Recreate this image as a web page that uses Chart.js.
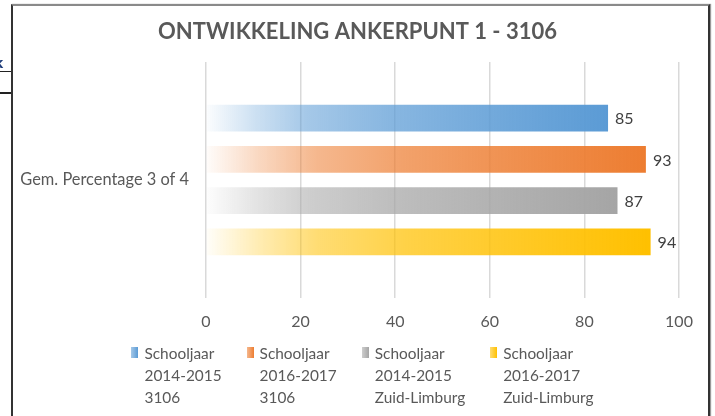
<!DOCTYPE html>
<html>
<head>
<meta charset="utf-8">
<script src="https://cdn.jsdelivr.net/npm/chart.js@4.4.1/dist/chart.umd.min.js"></script>
<style>
  html, body { margin: 0; padding: 0; background: #fff; }
  body { width: 715px; height: 416px; position: relative; overflow: hidden; font-family: Lato, "Open Sans", sans-serif; }
  #wrap { position: absolute; left: 0; top: 0; width: 715px; height: 416px; }
  #frame { position: absolute; left: 11px; top: 4px; width: 695px; height: 430px;
           border-top: 2px solid #8a8a8a; border-left: 2px solid #333; border-right: 2px solid #333;
           box-shadow: 1px 0 1px #999; pointer-events: none; }
  .cell-line { position: absolute; left: 0; width: 11px; background: #222; }
  #stub { position: absolute; left: -6px; top: 52px; font: bold 15px "Open Sans", sans-serif; color: #1f3d7a; }
  #legend { position: absolute; top: 342px; left: 0; width: 725px; display: flex; justify-content: center; gap: 25px;
            color: #595959; font-size: 15.4px; line-height: 22px; }
  .item { display: flex; align-items: flex-start; }
  .mark { width: 7px; height: 11px; margin: 5px 6px 0 0; }
</style>
</head>
<body>
<div id="wrap"><canvas id="chart" width="715" height="416"></canvas></div>
<div id="stub">k</div>
<div class="cell-line" style="top:71px;height:1px"></div>
<div class="cell-line" style="top:92px;height:2px"></div>
<div id="frame"></div>
<div id="legend"></div>
<script>
// gegevens
const categories = ['Gem. Percentage 3 of 4'];
const seriesNames = [
    ['Schooljaar', '2014-2015', '3106'],
    ['Schooljaar', '2016-2017', '3106'],
    ['Schooljaar', '2014-2015', 'Zuid-Limburg'],
    ['Schooljaar', '2016-2017', 'Zuid-Limburg']
];
const seriesValues = [[85], [93], [87], [94]];
const seriesColors = ['#5B9BD5', '#ED7D31', '#A5A5A5', '#FFC000'];
const axisTicks = [0, 20, 40, 60, 80, 100];
const chartTitle = 'ONTWIKKELING ANKERPUNT 1 - 3106';

const textColor = '#595959';
const fontFamily = 'Lato, "Open Sans", sans-serif';

function rgba(hex, a) {
    const n = parseInt(hex.slice(1), 16);
    return `rgba(${(n >> 16) & 255}, ${(n >> 8) & 255}, ${n & 255}, ${a})`;
}

// verloop van wit naar de volle kleur, per balk
function barGradient(color) {
    return function(context) {
        const chart = context.chart;
        const area = chart.chartArea;
        const xScale = chart.scales.x;
        if (!area || !xScale || context.raw === undefined) return color;
        const end = xScale.getPixelForValue(context.raw);
        const g = chart.ctx.createLinearGradient(area.left, 0, end, 0);
        g.addColorStop(0, rgba(color, 0.02));
        g.addColorStop(0.12, rgba(color, 0.3));
        g.addColorStop(0.25, rgba(color, 0.55));
        g.addColorStop(0.45, rgba(color, 0.72));
        g.addColorStop(0.75, rgba(color, 0.88));
        g.addColorStop(1, color);
        return g;
    };
}

// titel gecentreerd in het kader (niet in het plotgebied)
const frameTitle = {
    id: 'frameTitle',
    afterDraw(chart) {
        const ctx = chart.ctx;
        ctx.save();
        ctx.font = `bold 22px ${fontFamily}`;
        ctx.fillStyle = textColor;
        ctx.textAlign = 'center';
        ctx.textBaseline = 'middle';
        ctx.fillText(chartTitle, chart.width / 2, 32);
        ctx.restore();
    }
};

// waarden rechts naast de balken
const valueLabels = {
    id: 'valueLabels',
    afterDatasetsDraw(chart) {
        const ctx = chart.ctx;
        ctx.save();
        ctx.font = `16px ${fontFamily}`;
        ctx.fillStyle = '#404040';
        ctx.textBaseline = 'middle';
        ctx.textAlign = 'left';
        chart.data.datasets.forEach((ds, i) => {
            const meta = chart.getDatasetMeta(i);
            meta.data.forEach((bar, j) => {
                ctx.fillText(String(ds.data[j]), bar.x + 7, bar.y + 1);
            });
        });
        ctx.restore();
    }
};

const chart = new Chart(document.getElementById('chart'), {
    type: 'bar',
    data: {
        labels: categories,
        datasets: seriesValues.map((vals, i) => ({
            label: seriesNames[i].join(' '),
            data: vals,
            backgroundColor: barGradient(seriesColors[i]),
            borderWidth: 0,
            barPercentage: 0.65,
            categoryPercentage: 0.70
        }))
    },
    options: {
        indexAxis: 'y',
        responsive: false,
        animation: false,
        layout: { padding: { left: 0, right: 36, top: 62, bottom: 78 } },
        plugins: {
            legend: { display: false },
            tooltip: { enabled: false },
            title: { display: false }
        },
        scales: {
            x: {
                min: 0,
                max: 100,
                afterBuildTicks(scale) {
                    scale.ticks = axisTicks.map(v => ({ value: v }));
                },
                afterFit(scale) { scale.height = 40; },
                grid: { color: '#d9d9d9', lineWidth: 1.5, drawTicks: false },
                border: { display: false },
                ticks: { color: textColor, padding: 14, font: { family: fontFamily, size: 16 } }
            },
            y: {
                afterFit(scale) { scale.width = 206; },
                grid: { display: false },
                border: { display: false },
                ticks: { color: textColor, padding: 9, font: { family: fontFamily, size: 16.4 } }
            }
        }
    },
    plugins: [valueLabels, frameTitle]
});

// legenda in HTML, drie regels per reeks
const legend = document.getElementById('legend');
seriesNames.forEach((lines, i) => {
    const item = document.createElement('div');
    item.className = 'item';
    const mark = document.createElement('div');
    mark.className = 'mark';
    mark.style.background = `linear-gradient(to right, ${rgba(seriesColors[i], 0.55)}, ${seriesColors[i]})`;
    const text = document.createElement('div');
    text.innerHTML = lines.join('<br>');
    item.appendChild(mark);
    item.appendChild(text);
    legend.appendChild(item);
});
</script>
</body>
</html>
